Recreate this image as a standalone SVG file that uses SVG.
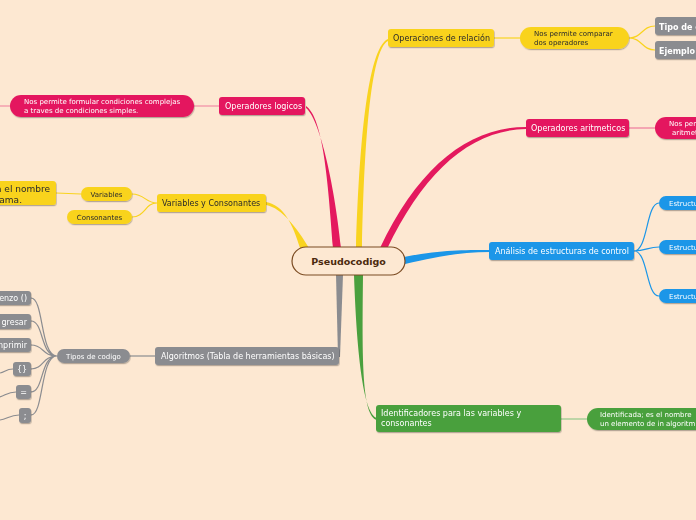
<svg xmlns="http://www.w3.org/2000/svg" width="696" height="520" viewBox="0 0 696 520">
<defs>
<filter id="sh" x="-10%" y="-20%" width="120%" height="160%">
<feDropShadow dx="0.6" dy="1.2" stdDeviation="0.7" flood-color="#000" flood-opacity="0.28"/>
</filter>
<style>
text{font-family:"DejaVu Sans","Liberation Sans",sans-serif;}
.t8{font-size:8px;}
.t7{font-size:7px;}
.w{fill:#ffffff;}
.k{fill:#2a2a2a;}
.yel{fill:#f9d31f;}
.pnk{fill:#e4195e;}
.gry{fill:#8b8c90;}
.blu{fill:#1b96e8;}
.grn{fill:#4aa03e;}
.c{fill:none;stroke-width:1.2;}
</style>
</defs>
<rect width="696" height="520" fill="#fde8d2"/>

<g id="connectors">
<path d="M356,248 C359,150 367,48 388,39 L388,41 C370,50 364,150 362,248 Z" fill="#f9d31f"/>
<path d="M380,248 C418,168 468,127 526,127 L526,129 C470,130 424,172 387,249 Z" fill="#e4195e"/>
<path d="M333,248 C328,180 323,118 306,106 L306,108 C319,118 334,180 341,248 Z" fill="#e4195e"/>
<path d="M300,248 C293,225 284,205 266,202 L266,205 C282,208 297,228 309,248 Z" fill="#f9d31f"/>
<path d="M336,275 L338,357 L340,357 L343,275 Z" fill="#8b8c90"/>
<path d="M354,275 C357,360 364,414 377,418 L377,420 C362,416 362,362 363,275 Z" fill="#4aa03e"/>
<path d="M404,257 C440,250 462,250 490,250 L490,252 C462,252 440,256 405,264 Z" fill="#1b96e8"/>
<path class="c" stroke="#f9d31f" d="M494,38 L520,38"/>
<path class="c" stroke="#f9d31f" d="M629,38 C642,38 642,26 655,26 M629,38 C642,38 642,50 655,50"/>
<path class="c" stroke="#ef7a9c" stroke-width="1.6" d="M629,128 L655,128"/>
<path class="c" stroke="#ef7a9c" stroke-width="1.6" d="M219,106 L194,106 M10,106 L0,106"/>
<path class="c" stroke="#f9d31f" d="M157,203 C145,203 145,194 132,194 M157,203 C145,203 145,217 132,217 M81,194 L56,193"/>
<path class="c" stroke="#8b8c90" d="M155,356 L130,356"/>
<path class="c" stroke="#8b8c90" d="M57,356 C40,356 44,298 31,298 M57,356 C40,356 44,321 31,321 M57,356 C42,356 44,345 31,345 M57,356 C42,356 44,369 31,369 M57,356 C40,356 44,392 31,392 M57,356 C40,356 44,415 31,415 M13,369 C6,369 5,372 0,373 M16,392 C8,392 6,395 0,397 M19,415 C10,415 7,419 0,420"/>
<path class="c" stroke="#1b96e8" d="M634,251 C648,251 646,203 659,203 M634,251 C646,251 648,247 659,247 M634,251 C648,251 646,296 659,296"/>
<path class="c" stroke="#94c98a" stroke-width="2" d="M561,419 L587,419"/>
</g>

<g id="center">
<rect x="292" y="247" width="113" height="28" rx="14" fill="#fde8d2" stroke="#7b4b22" stroke-width="1.2"/>
<text x="348.5" y="264.5" text-anchor="middle" font-size="9.5" font-weight="bold" fill="#4c2a0e">Pseudocodigo</text>
</g>

<g id="n-relacion" filter="url(#sh)">
<rect class="yel" x="388" y="29" width="106" height="18" rx="3"/>
<text class="t8 k" x="393" y="41">Operaciones de relación</text>
</g>
<g id="n-comparar" filter="url(#sh)">
<rect class="yel" x="520" y="27" width="109" height="22" rx="11"/>
<text class="t7 k" x="534" y="36">Nos permite comparar</text>
<text class="t7 k" x="534" y="45">dos operadores</text>
</g>
<g id="n-tipo" filter="url(#sh)">
<rect class="gry" x="655" y="17" width="50" height="18" rx="3"/>
<text class="w" x="659" y="29.5" font-size="8" font-weight="bold">Tipo de o</text>
</g>
<g id="n-ejemplo" filter="url(#sh)">
<rect class="gry" x="655" y="41" width="50" height="18" rx="3"/>
<text class="w" x="659" y="53.5" font-size="8" font-weight="bold">Ejemplo</text>
</g>

<g id="n-aritmeticos" filter="url(#sh)">
<rect class="pnk" x="526" y="119" width="103" height="18" rx="3"/>
<text class="t8 w" x="531" y="131">Operadores aritmeticos</text>
</g>
<g id="n-arit-desc" filter="url(#sh)">
<rect class="pnk" x="655" y="117" width="60" height="22" rx="11"/>
<text class="t7 w" x="669" y="126">Nos per</text>
<text class="t7 w" x="672" y="135">aritmet</text>
</g>

<g id="n-logicos" filter="url(#sh)">
<rect class="pnk" x="219" y="97" width="86" height="18" rx="3"/>
<text class="t8 w" x="225" y="109">Operadores logicos</text>
</g>
<g id="n-logicos-desc" filter="url(#sh)">
<rect class="pnk" x="10" y="95" width="184" height="22" rx="11"/>
<text class="t7 w" x="24" y="104">Nos permite formular condiciones complejas</text>
<text class="t7 w" x="24" y="113">a traves de condiciones simples.</text>
</g>

<g id="n-varcons" filter="url(#sh)">
<rect class="yel" x="157" y="194" width="109" height="18" rx="3"/>
<text class="t8 k" x="162" y="206">Variables y Consonantes</text>
</g>
<g id="n-variables" filter="url(#sh)">
<rect class="yel" x="81" y="187" width="51" height="14" rx="7"/>
<text class="t7 k" x="106.5" y="196.5" text-anchor="middle">Variables</text>
</g>
<g id="n-consonantes" filter="url(#sh)">
<rect class="yel" x="67" y="210" width="65" height="14" rx="7"/>
<text class="t7 k" x="99.5" y="219.5" text-anchor="middle">Consonantes</text>
</g>
<g id="n-var-desc" filter="url(#sh)">
<rect class="yel" x="-10" y="181" width="66" height="24" rx="3"/>
<text class="k" x="50" y="192" font-size="9" text-anchor="end">ta el nombre</text>
<text class="k" x="22" y="203" font-size="9" text-anchor="end">rama.</text>
</g>

<g id="n-algoritmos" filter="url(#sh)">
<rect class="gry" x="155" y="347" width="184" height="18" rx="3"/>
<text class="t8 w" x="161" y="359">Algoritmos (Tabla de herramientas básicas)</text>
</g>
<g id="n-tipos" filter="url(#sh)">
<rect class="gry" x="57" y="349" width="73" height="14" rx="7"/>
<text class="t7 w" x="93.5" y="358.5" text-anchor="middle">Tipos de codigo</text>
</g>
<g id="n-comienzo" filter="url(#sh)">
<rect class="gry" x="-10" y="291" width="41" height="14" rx="3"/>
<text class="t8 w" x="27" y="301" text-anchor="end">enzo ()</text>
</g>
<g id="n-ingresar" filter="url(#sh)">
<rect class="gry" x="-10" y="314" width="41" height="15" rx="3"/>
<text class="t8 w" x="27" y="324.5" text-anchor="end">gresar</text>
</g>
<g id="n-imprimir" filter="url(#sh)">
<rect class="gry" x="-10" y="338" width="41" height="14" rx="3"/>
<text class="t8 w" x="27" y="348" text-anchor="end">nprimir</text>
</g>
<g id="n-llaves" filter="url(#sh)">
<rect class="gry" x="13" y="362" width="18" height="14" rx="3"/>
<text class="t8 w" x="22" y="372" text-anchor="middle">{}</text>
</g>
<g id="n-igual" filter="url(#sh)">
<rect class="gry" x="16" y="385" width="15" height="14" rx="3"/>
<text class="t8 w" x="23.5" y="395" text-anchor="middle">=</text>
</g>
<g id="n-puntocoma" filter="url(#sh)">
<rect class="gry" x="19" y="408" width="12" height="15" rx="3"/>
<text class="t8 w" x="25" y="418.5" text-anchor="middle">;</text>
</g>

<g id="n-analisis" filter="url(#sh)">
<rect class="blu" x="489" y="242" width="145" height="18" rx="3"/>
<text class="t8 w" x="495" y="254">Análisis de estructuras de control</text>
</g>
<g id="n-estr1" filter="url(#sh)">
<rect class="blu" x="659" y="196" width="60" height="14" rx="7"/>
<text class="t7 w" x="669" y="205.5">Estructu</text>
</g>
<g id="n-estr2" filter="url(#sh)">
<rect class="blu" x="659" y="240" width="60" height="14" rx="7"/>
<text class="t7 w" x="669" y="249.5">Estructu</text>
</g>
<g id="n-estr3" filter="url(#sh)">
<rect class="blu" x="659" y="289" width="60" height="14" rx="7"/>
<text class="t7 w" x="669" y="298.5">Estructu</text>
</g>

<g id="n-identificadores" filter="url(#sh)">
<rect class="grn" x="376" y="405" width="185" height="27" rx="3"/>
<text class="t8 w" x="381" y="416">Identificadores para las variables y</text>
<text class="t8 w" x="381" y="426">consonantes</text>
</g>
<g id="n-ident-desc" filter="url(#sh)">
<rect class="grn" x="587" y="408" width="130" height="22" rx="11"/>
<text class="t7 w" x="600" y="416.5">Identificada; es el nombre</text>
<text class="t7 w" x="600" y="425.5">un elemento de in algoritm</text>
</g>
</svg>
